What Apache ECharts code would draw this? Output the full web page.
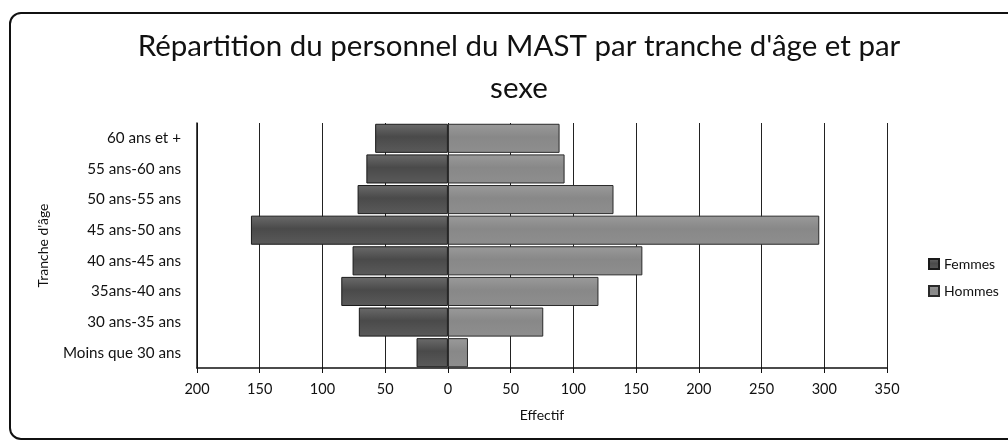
<!DOCTYPE html>
<html>
<head>
<meta charset="utf-8">
<script src="https://cdn.jsdelivr.net/npm/echarts@6/dist/echarts.min.js"></script>
<style>
  html, body { margin: 0; padding: 0; background: #fff; }
  #frame {
    position: absolute; left: 9px; top: 12px; width: 1030px; height: 428px;
    border: 2px solid #111; border-radius: 12px; box-sizing: border-box;
  }
  #chart { position: absolute; left: 0; top: 0; width: 1008px; height: 443px; }
</style>
</head>
<body>
<div id="frame"></div>
<div id="chart"></div>
<script>
// Age brackets, listed bottom to top
const categories = ['Moins que 30 ans', '30 ans-35 ans', '35ans-40 ans', '40 ans-45 ans',
                    '45 ans-50 ans', '50 ans-55 ans', '55 ans-60 ans', '60 ans et +'];
// Staff counts per bracket
const femmes = [25, 71, 85, 76, 157, 72, 65, 58];
const hommes = [16, 76, 120, 155, 296, 132, 93, 89];
const xTicks = { min: -200, max: 350, interval: 50 };

const FONT = 'Lato, "Open Sans", sans-serif';

function shade(top, mid, bottom) {
  return new echarts.graphic.LinearGradient(0, 0, 0, 1, [
    { offset: 0, color: top }, { offset: 0.45, color: mid }, { offset: 1, color: bottom }
  ]);
}

const chart = echarts.init(document.getElementById('chart'));
chart.setOption({
  animation: false,
  title: {
    text: "Répartition du personnel du MAST par tranche d'âge et par\nsexe",
    left: 514, top: 20, textAlign: 'center',
    textStyle: { fontFamily: FONT, fontSize: 29.5, fontWeight: 'normal', color: '#111', lineHeight: 42 }
  },
  legend: {
    orient: 'vertical', left: 923, top: 252, itemGap: 13,
    itemWidth: 10, itemHeight: 10, icon: 'rect',
    textStyle: { fontFamily: FONT, fontSize: 14, color: '#111' },
    data: ['Femmes', 'Hommes']
  },
  grid: { left: 197, right: 121, top: 123, bottom: 75 },
  xAxis: {
    type: 'value', min: xTicks.min, max: xTicks.max, interval: xTicks.interval,
    name: 'Effectif', nameLocation: 'middle', nameGap: 40,
    nameTextStyle: { fontFamily: FONT, fontSize: 14, color: '#111' },
    axisLine: { show: true, onZero: false, lineStyle: { color: '#111', width: 1.5 } },
    axisTick: { show: true, length: 5, lineStyle: { color: '#111' } },
    axisLabel: { fontFamily: FONT, fontSize: 14.5, color: '#111', margin: 14,
                 formatter: v => String(Math.abs(v)) },
    splitLine: { show: true, lineStyle: { color: '#222', width: 1 } }
  },
  yAxis: {
    type: 'category', data: categories,
    name: "Tranche d'âge", nameLocation: 'middle', nameGap: 147, nameRotate: 90,
    nameMoveOverlap: false,
    nameTextStyle: { fontFamily: FONT, fontSize: 14, color: '#111' },
    axisLine: { show: true, onZero: false, lineStyle: { color: '#111', width: 1.5 } },
    axisTick: { show: false },
    axisLabel: { fontFamily: FONT, fontSize: 15.2, color: '#111', margin: 16 },
    splitLine: { show: false }
  },
  series: [
    {
      name: 'Femmes', type: 'bar', barCategoryGap: '5%', barGap: '-100%',
      data: femmes.map(v => -v),
      itemStyle: { color: shade('#6a6a6a', '#4a4a4a', '#5a5a5a'), borderColor: '#1a1a1a', borderWidth: 1 }
    },
    {
      name: 'Hommes', type: 'bar', barCategoryGap: '5%', barGap: '-100%',
      data: hommes,
      itemStyle: { color: shade('#9a9a9a', '#888888', '#8e8e8e'), borderColor: '#2a2a2a', borderWidth: 1 }
    }
  ]
});
</script>
</body>
</html>
